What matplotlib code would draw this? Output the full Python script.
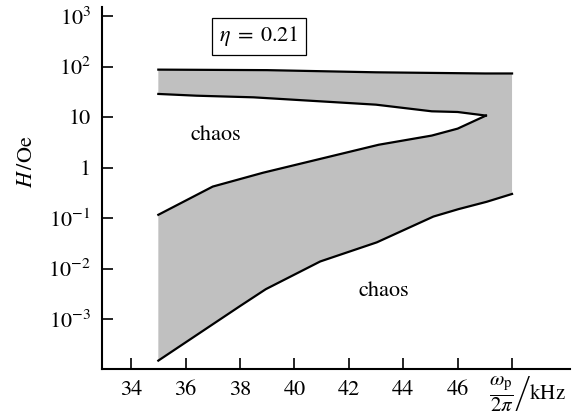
import matplotlib
matplotlib.use("Agg")
import matplotlib.pyplot as plt

plt.rcParams['font.family'] = ['STIXGeneral', 'DejaVu Serif']
plt.rcParams['mathtext.fontset'] = 'stix'

# Upper boundary of the top band
top_x = [35, 39, 43, 47, 48]
top_y = [87, 85, 77, 73, 73]
# Lower edge of the top band (ends at the tip)
band_x = [35, 36.4, 38.5, 43.0, 45.05, 46.0, 47.04]
band_y = [28.7, 26.5, 24.6, 17.6, 13.0, 12.6, 10.7]
# Rising middle curve (ends at the tip)
mid_x = [35, 37.0, 38.85, 43.1, 45.05, 46.0, 47.04]
mid_y = [0.116, 0.42, 0.79, 2.83, 4.3, 5.9, 10.7]
# Bottom curve
bot_x = [35, 38.0, 38.95, 40.95, 43.03, 45.11, 46.03, 47.07, 48]
bot_y = [1.5e-4, 1.8e-3, 3.9e-3, 0.0138, 0.033, 0.107, 0.15, 0.21, 0.30]

xticks = [34, 36, 38, 40, 42, 44, 46, 48]
xticklabels = ['34', '36', '38', '40', '42', '44', '46', '']
yticks = [1e-3, 1e-2, 1e-1, 1, 10, 1e2, 1e3]
yticklabels = [r'$10^{-3}$', r'$10^{-2}$', r'$10^{-1}$', '1', '10', r'$10^{2}$', r'$10^{3}$']

fig = plt.figure(figsize=(5.84, 4.16), dpi=100)
ax = fig.add_axes([102/584, 1-369/416, 468/584, 362/416])

# polygon of the grey region
px = top_x + bot_x[::-1] + mid_x + band_x[::-1]
py = top_y + bot_y[::-1] + mid_y + band_y[::-1]
ax.fill(px, py, color='#c0c0c0', lw=0, zorder=1)

lw = 1.6
ax.plot(top_x, top_y, color='black', lw=lw, zorder=2)
ax.plot(band_x, band_y, color='black', lw=lw, zorder=2)
ax.plot(mid_x, mid_y, color='black', lw=lw, zorder=2)
ax.plot(bot_x, bot_y, color='black', lw=lw, zorder=2)

ax.set_yscale('log')
ax.set_xlim(32.93, 50.13)
ax.set_ylim(10**-3.99, 10**3.18)
ax.set_xticks(xticks)
ax.set_xticklabels(xticklabels)
ax.set_yticks(yticks)
ax.set_yticklabels(yticklabels)
ax.minorticks_off()
ax.tick_params(direction='in', length=8, width=1.2, labelsize=16, pad=8, colors='black')
for s in ['top', 'right']:
    ax.spines[s].set_visible(False)
for s in ['left', 'bottom']:
    ax.spines[s].set_linewidth(1.5)

ax.text(37.1, 4.3, 'chaos', fontsize=16, ha='center', va='center')
ax.text(43.3, 3.5e-3, 'chaos', fontsize=16, ha='center', va='center')
ax.text(38.7, 400, r'$\eta\;=\;0.21$', fontsize=16, ha='center', va='center',
        bbox=dict(boxstyle='square,pad=0.3', fc='white', ec='black', lw=0.9))

fig.text(527/584, 1-394/416, r'$\left.\dfrac{\omega_{\rm p}}{2\pi}\right/\mathrm{kHz}$',
         fontsize=15, ha='center', va='center')
fig.text(27/584, 1-162/416, r'$H\,/\mathrm{Oe}$', fontsize=16, rotation=90,
         ha='center', va='center')

fig.savefig('out.png', dpi=100)
